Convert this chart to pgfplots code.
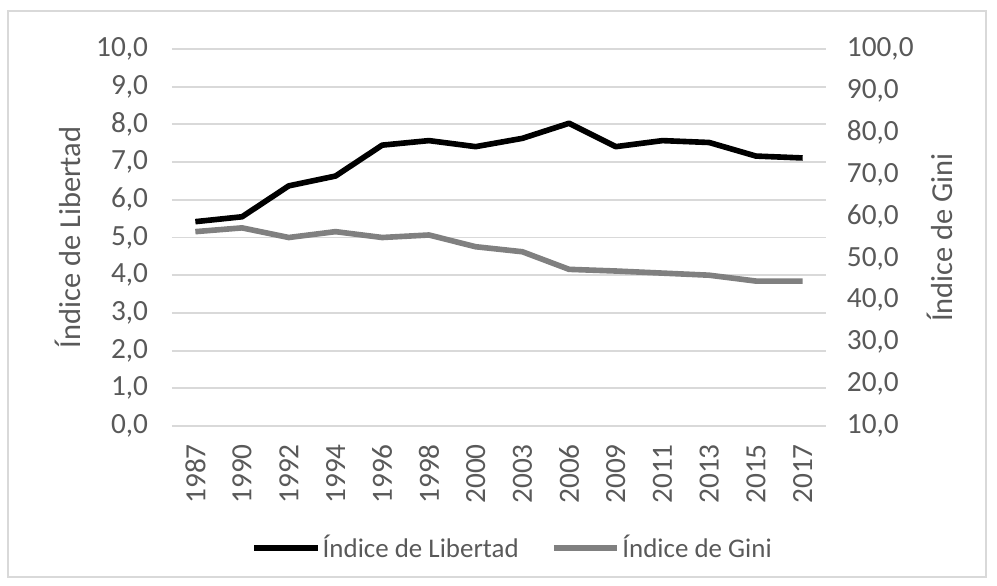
\documentclass[border=0pt]{standalone}
\usepackage{fontspec}
\setmainfont{Carlito}
\usepackage{pgfplots}
\pgfplotsset{compat=1.18}
\definecolor{txt}{HTML}{595959}
\definecolor{gridc}{HTML}{D9D9D9}
\definecolor{gini}{HTML}{808080}

\pgfplotsset{
  base/.style={
    scale only axis,
    width=9.81cm, height=5.655cm,
    at={(0,0)}, anchor=south west,
    xmin=-0.5, xmax=13.5,
    axis line style={draw=none},
    major tick style={draw=none},
    tick label style={font=\fontsize{12.5}{14}\selectfont, text=txt},
    label style={font=\fontsize{13}{15}\selectfont, text=txt},
    /pgf/number format/fixed,
    /pgf/number format/fixed zerofill,
    /pgf/number format/precision=1,
    /pgf/number format/use comma,
    /pgf/number format/assume math mode=true,
  }
}

\begin{document}
\begin{tikzpicture}
\useasboundingbox (-2.58,-2.385) rectangle (12.375,6.39);
\draw[gridc, line width=0.6pt] (-2.46,-2.265) rectangle (12.21,6.225);

\begin{axis}[
  base,
  ymin=0, ymax=10,
  ytick={0,1,...,10},
  xtick={0,...,13},
  xticklabels={1987,1990,1992,1994,1996,1998,2000,2003,2006,2009,2011,2013,2015,2017},
  % after rotate=90 the local x axis points up, so a negative xshift moves down
  xticklabel style={rotate=90, anchor=east, xshift=-0.15cm},
  yticklabel style={xshift=-0.235cm},
  ymajorgrids=true,
  grid style={gridc, line width=0.8pt},
  ylabel={Índice de Libertad},
  ylabel style={at={(axis description cs:-0.159,0.5)}, anchor=center},
]
\addplot[black, line width=2.4pt, line join=round] coordinates {
  (0,5.42) (1,5.55) (2,6.37) (3,6.63) (4,7.45) (5,7.57) (6,7.41)
  (7,7.63) (8,8.03) (9,7.41) (10,7.57) (11,7.52) (12,7.16) (13,7.11)
};
\end{axis}

\begin{axis}[
  base,
  axis y line*=right,
  hide x axis,
  ymin=10, ymax=100,
  ytick={10,20,...,100},
  yticklabel style={xshift=0.19cm},
  ylabel={Índice de Gini},
  ylabel style={at={(axis description cs:1.174,0.5)}, anchor=center},
  legend columns=2,
  legend style={
    at={(axis description cs:0.521,-0.3236)}, anchor=center,
    draw=none, fill=none,
    font=\fontsize{11.5}{13}\selectfont, text=txt,
    nodes={inner xsep=1pt},
    /tikz/every even column/.append style={column sep=0.45cm},
  },
  legend image code/.code={\draw[#1] (0cm,0cm) -- (0.95cm,0cm);},
]
\addlegendimage{black, line width=2.4pt}
\addlegendentry{Índice de Libertad}
\addplot[gini, line width=2.4pt, line join=round] coordinates {
  (0,56.4) (1,57.3) (2,55.0) (3,56.4) (4,55.0) (5,55.6) (6,52.8)
  (7,51.6) (8,47.4) (9,47.0) (10,46.5) (11,46.0) (12,44.6) (13,44.6)
};
\addlegendentry{Índice de Gini}
\end{axis}
\end{tikzpicture}
\end{document}
